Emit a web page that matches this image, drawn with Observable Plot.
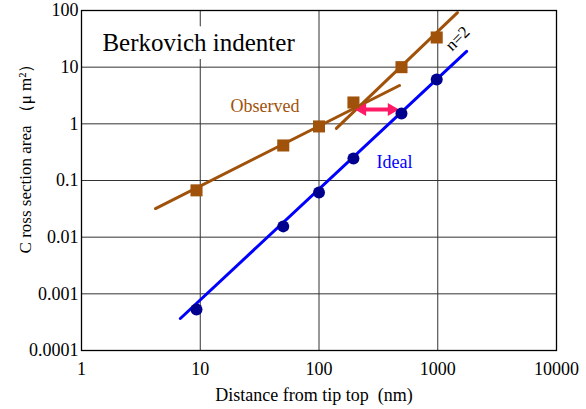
<!DOCTYPE html>
<html>
<head>
<meta charset="utf-8">
<script src="https://cdn.jsdelivr.net/npm/d3@7"></script>
<script src="https://cdn.jsdelivr.net/npm/@observablehq/plot@0.6"></script>
<style>
  html, body { margin: 0; padding: 0; background: white; }
</style>
</head>
<body>
<div id="chart"></div>
<script>
// Tick values
const xTicks = [1, 10, 100, 1000, 10000];
const yTicks = [0.0001, 0.001, 0.01, 0.1, 1, 10, 100];

// Observed (squares) and Ideal (circles) data
const obsX = [9.3, 50, 100, 195, 495, 980];
const obsY = [0.067, 0.415, 0.9, 2.38, 10, 33.4];
const idealX = [9.3, 50, 100, 195, 495, 980];
const idealY = [0.00053, 0.0155, 0.0616, 0.245, 1.52, 6.06];

// Fitted lines (endpoints)
const idealFitX = [6.8, 1750];
const idealFitY = [0.000367, 19];
const obsFitX = [4.2, 476];
const obsFitY = [0.032, 4.75];
const steepFitX = [140, 1466];
const steepFitY = [0.83, 92];

// Double arrow (head centres)
const arrowX = [232, 408];
const arrowY = [1.79, 1.79];

// Annotations
const titleLabel = [{x: 1.5, y: 26.2, text: "Berkovich indenter"}];
const seriesLabels = [
  {x: 18, y: 2.02, text: "Observed", color: "#A0520A"},
  {x: 305, y: 0.208, text: "Ideal", color: "#0000FF"}
];
const slopeLabel = [{x: 1466, y: 32, text: "n=2"}];
const xLabel = "Distance from tip top  (nm)";
const yLabel = "C ross section area （μ m²）";

const zip = (xs, ys) => xs.map((x, i) => ({x, y: ys[i]}));
const brown = "#A0520A";
const font = "'Liberation Serif', 'Times New Roman', serif";

const chart = Plot.plot({
  width: 586,
  height: 409,
  marginLeft: 81,
  marginRight: 30,
  marginTop: 10,
  marginBottom: 59,
  style: {fontFamily: font, fontSize: "18px", background: "white", color: "black"},
  x: {type: "log", domain: [1, 10000]},
  y: {type: "log", domain: [0.0001, 100]},
  marks: [
    Plot.gridX(xTicks, {stroke: "#333", strokeOpacity: 1, strokeWidth: 1}),
    Plot.gridY(yTicks, {stroke: "#333", strokeOpacity: 1, strokeWidth: 1}),
    Plot.frame({stroke: "black", strokeWidth: 1.3}),
    Plot.axisX(xTicks, {tickSize: 0, tickPadding: 12, tickFormat: d => String(d), fontSize: 18, fontFamily: font, label: null}),
    Plot.axisY(yTicks, {tickSize: 0, tickPadding: 3, tickFormat: d => String(d), fontSize: 18, fontFamily: font, label: null}),
    Plot.text(titleLabel, {x: "x", y: "y", text: "text", fill: "black", fontSize: 25, textAnchor: "start", stroke: "white", strokeWidth: 16, fontFamily: font}),
    Plot.line(zip(obsFitX, obsFitY), {x: "x", y: "y", stroke: brown, strokeWidth: 3}),
    Plot.line(zip(steepFitX, steepFitY), {x: "x", y: "y", stroke: brown, strokeWidth: 3}),
    Plot.line(zip(idealFitX, idealFitY), {x: "x", y: "y", stroke: "#0000FF", strokeWidth: 3}),
    Plot.line(zip(arrowX, arrowY), {x: "x", y: "y", stroke: "#FF1A66", strokeWidth: 4}),
    Plot.dot(zip(arrowX, arrowY), {x: "x", y: "y", symbol: "triangle", r: 4.8, fill: "#FF1A66", rotate: (d, i) => i === 0 ? -90 : 90}),
    Plot.dot(zip(obsX, obsY), {x: "x", y: "y", symbol: "square", r: 6.8, fill: brown}),
    Plot.dot(zip(idealX, idealY), {x: "x", y: "y", symbol: "circle", r: 6, fill: "#00008F"}),
    Plot.text(seriesLabels, {x: "x", y: "y", text: "text", fill: "color", fontSize: 18, textAnchor: "start", fontFamily: font}),
    Plot.text(slopeLabel, {x: "x", y: "y", text: "text", fill: "black", fontSize: 17, rotate: -45, textAnchor: "middle", fontFamily: font}),
    Plot.text([xLabel], {frameAnchor: "bottom", text: d => d, dx: -5, dy: 45, textAnchor: "middle", lineAnchor: "middle", fontSize: 18, fill: "black", fontFamily: font}),
    Plot.text([yLabel], {frameAnchor: "left", text: d => d, dx: -56, dy: -26, rotate: -90, textAnchor: "middle", lineAnchor: "middle", fontSize: 17, fill: "black", fontFamily: font})
  ]
});
document.getElementById("chart").appendChild(chart);
</script>
</body>
</html>
